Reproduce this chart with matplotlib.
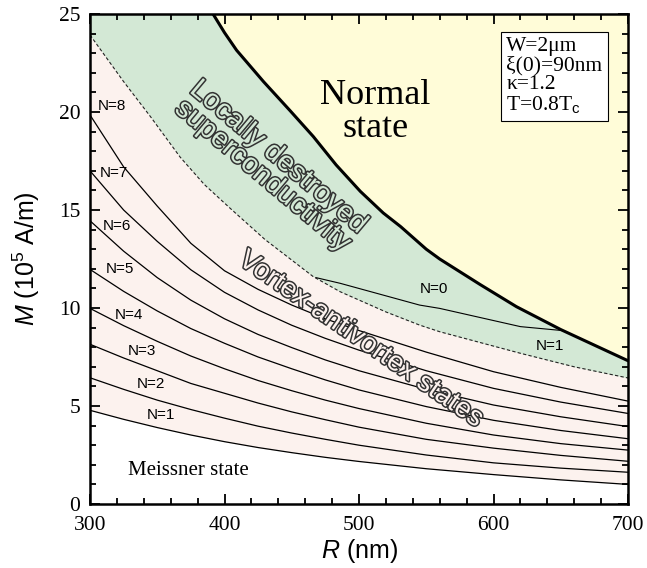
import matplotlib
matplotlib.use("Agg")
import matplotlib.pyplot as plt
import matplotlib.patheffects as pe
from matplotlib.ticker import MultipleLocator

plt.rcParams['mathtext.fontset'] = 'custom'
plt.rcParams['mathtext.rm'] = 'Liberation Sans'
plt.rcParams['mathtext.it'] = 'Liberation Sans:italic'

# ---- data ----
R_grid = [300, 325, 350, 375, 400, 425, 450, 475, 500, 550, 600, 650, 700]
M_N1 = [4.78, 4.32, 3.90, 3.52, 3.18, 2.88, 2.62, 2.38, 2.17, 1.80, 1.50, 1.23, 1.00]
M_N2 = [6.44, 5.85, 5.30, 4.82, 4.38, 3.97, 3.62, 3.30, 3.00, 2.50, 2.10, 1.83, 1.62]
M_N3 = [8.15, 7.45, 6.80, 6.15, 5.65, 5.15, 4.70, 4.30, 3.92, 3.30, 2.85, 2.48, 2.18]
M_N4 = [9.98, 9.10, 8.30, 7.55, 6.90, 6.30, 5.78, 5.30, 4.87, 4.12, 3.52, 3.08, 2.75]
M_N5 = [11.97, 10.85, 9.85, 8.95, 8.20, 7.50, 6.90, 6.33, 5.82, 4.97, 4.27, 3.75, 3.33]
M_N6 = [14.45, 12.90, 11.55, 10.40, 9.45, 8.65, 7.98, 7.35, 6.80, 5.85, 5.05, 4.45, 3.95]
M_N7 = [17.00, 15.00, 13.40, 11.95, 10.80, 9.90, 9.12, 8.45, 7.85, 6.80, 5.90, 5.20, 4.62]
M_N8 = [19.85, 17.20, 15.20, 13.30, 11.90, 10.95, 10.15, 9.45, 8.85, 7.75, 6.75, 5.95, 5.25]
N_curves = [M_N1, M_N2, M_N3, M_N4, M_N5, M_N6, M_N7, M_N8]

R_normal = [391.5, 400, 409, 419, 429, 449, 466, 483, 501, 518, 531, 550, 560, 590, 617, 650, 700]
M_normal = [25.0, 24.05, 23.15, 22.35, 21.55, 20.05, 18.75, 17.3, 15.95, 14.85, 14.15, 13.0, 12.5, 11.2, 10.07, 8.9, 7.31]

R_dash = [300, 325, 345, 367, 385, 404, 430, 466, 486, 520, 545, 560, 620, 660, 700]
M_dash = [23.93, 21.55, 19.76, 17.7, 16.3, 15.1, 13.5, 11.6, 10.83, 9.8, 9.13, 8.79, 7.69, 7.0, 6.43]

R_N0 = [468, 486, 545, 560, 620, 651]
M_N0 = [11.55, 11.26, 10.15, 9.98, 9.05, 8.85]

N_labels = ['N=1', 'N=2', 'N=3', 'N=4', 'N=5', 'N=6', 'N=7', 'N=8']
N_label_R = [342.4, 335.0, 328.3, 318.6, 311.9, 309.7, 307.4, 305.9]
N_label_M = [4.54, 6.12, 7.81, 9.64, 11.97, 14.18, 16.90, 20.31]

c_normal = '#FFFCD8'
c_green = '#D3E8D5'
c_pink = '#FCF2EE'

fig = plt.figure(figsize=(6.47, 5.68), dpi=100)
ax = fig.add_axes([90/647, 64/568, 538/647, 490/568])

ax.fill_between(R_grid, M_N1, 25, color=c_pink, lw=0, zorder=0)
ax.fill_between(R_dash, M_dash, 25, color=c_green, lw=0, zorder=0.1)
ax.fill_between(R_normal, M_normal, 25, color=c_normal, lw=0, zorder=0.2)

for M in N_curves:
    ax.plot(R_grid, M, color='black', lw=0.9, zorder=2)
ax.plot(R_N0, M_N0, color='black', lw=0.8, zorder=2)
ax.plot(R_dash, M_dash, color='#222222', lw=0.8, ls=(0, (3, 2)), zorder=2)
ax.plot(R_normal, M_normal, color='black', lw=2.2, zorder=3)

for lab, xr, ym in zip(N_labels, N_label_R, N_label_M):
    ax.text(xr, ym, lab, fontsize=11, family='Liberation Sans', ha='left', va='center', zorder=4)
ax.text(545.4, 10.95, 'N=0', fontsize=11, family='Liberation Sans', ha='left', va='center', zorder=4)
ax.text(631.6, 8.06, 'N=1', fontsize=11, family='Liberation Sans', ha='left', va='center', zorder=4)

ax.text(328.3, 1.73, 'Meissner state', fontsize=15, family='Liberation Serif', ha='left', va='center')
ax.text(512, 20.0, 'Normal\nstate', fontsize=26, family='Liberation Serif', ha='center', va='center',
        linespacing=1.0)

outline = [pe.withStroke(linewidth=2.2, foreground='#333333')]
ax.text(434, 17.2, 'Locally destroyed\nsuperconductivity', fontsize=20.5, family='Liberation Sans',
        ha='center', va='center', rotation=-40, color=c_green, path_effects=outline,
        linespacing=0.92, zorder=5, rotation_mode='anchor')
ax.text(501, 8.4, 'Vortex-antivortex states', fontsize=20, family='Liberation Sans',
        ha='center', va='center', rotation=-34.5, color=c_pink, path_effects=outline, zorder=5,
        rotation_mode='anchor')

ax.text(609.5, 23.85, 'W=2\u03bcm\n\u03be(0)=90nm\n\u03ba=1.2\nT=0.8T$_{\\mathrm{c}}$', fontsize=15.5,
        family='Liberation Serif', ha='left', va='top', linespacing=1.0, zorder=6,
        bbox=dict(boxstyle='square,pad=0.25', fc='white', ec='black', lw=0.8))

ax.set_xlim(300, 700)
ax.set_ylim(0, 25)
ax.xaxis.set_major_locator(MultipleLocator(100))
ax.xaxis.set_minor_locator(MultipleLocator(20))
ax.yaxis.set_major_locator(MultipleLocator(5))
ax.yaxis.set_minor_locator(MultipleLocator(1))
ax.tick_params(which='both', direction='in', top=True, right=True, width=1.3)
ax.tick_params(which='major', length=7, labelsize=15.5)
ax.tick_params(axis='x', which='major', pad=9)
ax.tick_params(axis='y', which='major', pad=7)
ax.tick_params(which='minor', length=4)
for lab in ax.get_xticklabels() + ax.get_yticklabels():
    lab.set_family('Liberation Serif')
for s in ax.spines.values():
    s.set_linewidth(1.8)

ax.set_xlabel('$R$ (nm)', fontsize=18, family='Liberation Sans', labelpad=1)
ax.set_ylabel('$M$ (10$^5$ A/m)', fontsize=18, family='Liberation Sans', labelpad=12)

fig.savefig('out.png', dpi=100)
